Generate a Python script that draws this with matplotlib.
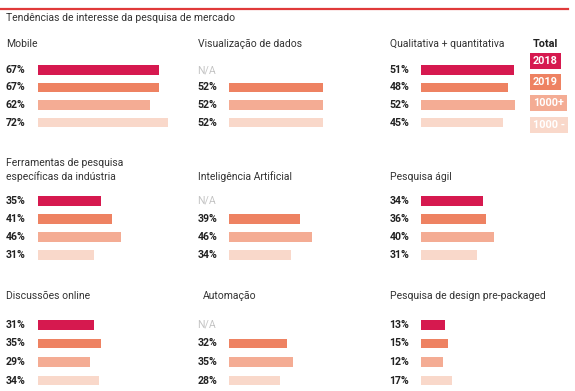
import matplotlib.pyplot as plt
from matplotlib.lines import Line2D

plt.rcParams['font.family'] = ['Roboto', 'DejaVu Sans']

# data
titulo = 'Tendências de interesse da pesquisa de mercado'
categorias = ['Mobile', 'Visualização de dados', 'Qualitativa + quantitativa',
              'Ferramentas de pesquisa\nespecíficas da indústria', 'Inteligência Artificial', 'Pesquisa ágil',
              'Discussões online', 'Automação', 'Pesquisa de design pre-packaged']
series = ['2018', '2019', '1000+', '1000 -']
v2018 = [67, None, 51, 35, None, 34, 31, None, 13]
v2019 = [67, 52, 48, 41, 39, 36, 35, 32, 15]
v1000_mais = [62, 52, 52, 46, 46, 40, 29, 35, 12]
v1000_menos = [72, 52, 45, 31, 34, 31, 34, 28, 17]

cores = ['#d6194f', '#ee8262', '#f4ac94', '#f9d8ca']
W, H = 575, 391
px_por_pct = 1.815

fig = plt.figure(figsize=(W / 100, H / 100), dpi=100)

def fx(x):
    return x / W

def fy(y):
    return 1 - y / H

# red rule at the top
fig.add_artist(Line2D([0, fx(568)], [fy(9), fy(9)], color='#e03a3a', lw=1.6))
fig.text(fx(6), fy(18), titulo, fontsize=7.5, color='#333333', va='center')

bar_x0 = [37.5, 229, 421]
title_x = [6, 198, 390]
row_y0 = [70, 201, 325]      # centre of first bar per row
row_sp = [17.5, 18, 18.5]    # bar pitch per row
title_y = [44, 177, 296]

valores = list(zip(v2018, v2019, v1000_mais, v1000_menos))
for i, cat in enumerate(categorias):
    r, c = divmod(i, 3)
    sp = row_sp[r]
    top = row_y0[r] - sp / 2
    h = 4 * sp
    w = 140
    ax = fig.add_axes([fx(bar_x0[c]), fy(top + h), w / W, h / H])
    ax.set_xlim(0, w / px_por_pct)
    ax.set_ylim(3.5, -0.5)
    ax.axis('off')
    for j, v in enumerate(valores[i]):
        if v is None:
            ax.annotate('N/A', xy=(0, j), xycoords=ax.get_yaxis_transform(),
                        xytext=(-31.5, 0), textcoords='offset pixels',
                        ha='left', va='center', fontsize=7.6, color='#c4c4c4')
            continue
        ax.barh(j, v, height=0.54, color=cores[j])
        ax.annotate(f'{v}%', xy=(0, j), xycoords=ax.get_yaxis_transform(),
                    xytext=(-31.5, 0), textcoords='offset pixels',
                    ha='left', va='center', fontsize=7.6, fontweight='bold', color='#222222')
    tx = title_x[c] + (5 if cat == 'Automação' else 0)
    ty = title_y[r] - (7 if '\n' in cat else 0)
    fig.text(fx(tx), fy(ty), cat, fontsize=7.5, color='#333333', va='center', linespacing=1.35)

# legend
fig.text(fx(533), fy(44), 'Total', fontsize=7.8, fontweight='bold', color='#222222', va='center')
for k, (s, y) in enumerate(zip(series, [61, 82, 103, 125])):
    fig.text(fx(533), fy(y), s, fontsize=7.8, fontweight='bold', color='white', va='center',
             bbox=dict(facecolor=cores[k], edgecolor='none', pad=2.2))

fig.savefig('out.png', dpi=100)
